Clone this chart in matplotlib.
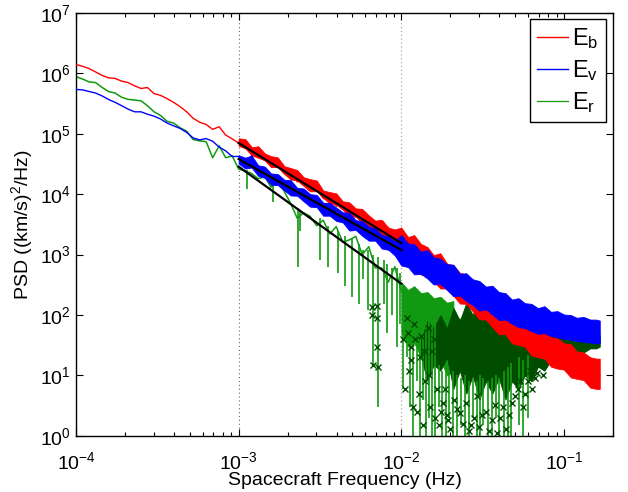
import matplotlib
matplotlib.use('Agg')
import matplotlib.pyplot as plt
from matplotlib.ticker import NullLocator

plt.rcParams['font.family'] = ['Liberation Sans', 'DejaVu Sans']
plt.rcParams['mathtext.fontset'] = 'custom'
plt.rcParams['mathtext.rm'] = 'Liberation Sans'
plt.rcParams['mathtext.it'] = 'Liberation Sans:italic'
plt.rcParams['mathtext.default'] = 'regular'

# frequency grid (Hz)
freq = [1.0e-4, 1.1e-4, 1.2e-4, 1.32e-4, 1.45e-4, 1.58e-4, 1.74e-4, 1.91e-4, 2.09e-4, 2.29e-4,
        2.51e-4, 2.75e-4, 3.02e-4, 3.31e-4, 3.63e-4, 3.98e-4, 4.37e-4, 4.79e-4, 5.25e-4, 5.75e-4,
        6.31e-4, 6.92e-4, 7.59e-4, 8.32e-4, 9.12e-4,
        1.0e-3, 1.1e-3, 1.2e-3, 1.32e-3, 1.45e-3, 1.58e-3, 1.74e-3, 1.91e-3, 2.09e-3, 2.29e-3,
        2.51e-3, 2.75e-3, 3.02e-3, 3.31e-3, 3.63e-3, 3.98e-3, 4.37e-3, 4.79e-3, 5.25e-3, 5.75e-3,
        6.31e-3, 6.92e-3, 7.59e-3, 8.32e-3, 9.12e-3,
        1.0e-2, 1.1e-2, 1.2e-2, 1.32e-2, 1.45e-2, 1.58e-2, 1.74e-2, 1.91e-2, 2.09e-2, 2.29e-2,
        2.51e-2, 2.75e-2, 3.02e-2, 3.31e-2, 3.63e-2, 3.98e-2, 4.37e-2, 4.79e-2, 5.25e-2, 5.75e-2,
        6.31e-2, 6.92e-2, 7.59e-2, 8.32e-2, 9.12e-2,
        1.0e-1, 1.1e-1, 1.2e-1, 1.32e-1, 1.45e-1, 1.58e-1, 1.66e-1]

eb = [1.4e6, 1.3e6, 1.2e6, 1.05e6, 9.2e5, 8.4e5, 8.2e5, 7.4e5, 7.0e5, 6.2e5,
      5.6e5, 5.8e5, 4.6e5, 4.3e5, 3.8e5, 3.3e5, 2.8e5, 2.3e5, 1.8e5, 1.55e5,
      1.42e5, 1.18e5, 1.3e5, 9.5e4, 8.2e4,
      7.0e4, 7.8e4, 6.0e4, 4.0e4, 4.4e4, 3.0e4, 3.2e4, 2.2e4, 2.4e4, 1.6e4,
      1.75e4, 1.15e4, 1.3e4, 8.5e3, 9.8e3, 6.3e3, 7.2e3, 4.6e3, 5.4e3, 3.4e3,
      4.0e3, 2.5e3, 3.0e3, 1.8e3, 2.3e3,
      1.6e3, 1.1e3, 1.3e3, 8.5e2, 9.5e2, 6.5e2, 6.8e2, 4.2e2, 4.5e2, 2.9e2,
      3.0e2, 1.9e2, 1.9e2, 1.25e2, 1.3e2, 85, 90, 62, 66, 46,
      50, 35, 38, 28, 29,
      24, 19, 19, 14, 15, 11, 10]

ev = [5.4e5, 5.3e5, 5.0e5, 4.7e5, 4.2e5, 3.7e5, 3.3e5, 2.9e5, 2.55e5, 2.3e5,
      2.3e5, 2.1e5, 1.95e5, 1.75e5, 1.5e5, 1.35e5, 1.22e5, 1.05e5, 8.5e4, 7.9e4,
      8.3e4, 7.5e4, 6.0e4, 5.2e4, 4.2e4,
      4.2e4, 3.0e4, 4.3e4, 2.6e4, 2.6e4, 1.8e4, 2.0e4, 1.3e4, 1.5e4, 1.0e4,
      1.15e4, 7.5e3, 8.3e3, 5.6e3, 6.4e3, 4.3e3, 4.8e3, 3.3e3, 3.6e3, 2.4e3,
      2.8e3, 1.8e3, 2.1e3, 1.4e3, 1.6e3,
      1.3e3, 8.0e2, 1.0e3, 6.0e2, 7.8e2, 4.7e2, 6.0e2, 3.5e2, 4.4e2, 2.6e2,
      3.3e2, 2.0e2, 2.5e2, 1.55e2, 2.0e2, 1.22e2, 1.6e2, 98, 1.28e2, 80,
      1.05e2, 68, 94, 62, 82,
      55, 74, 50, 68, 47, 64, 50]

er = [8.8e5, 8.0e5, 7.2e5, 7.0e5, 5.8e5, 5.0e5, 4.7e5, 4.0e5, 3.7e5, 3.6e5,
      3.5e5, 2.9e5, 2.3e5, 2.0e5, 1.6e5, 1.5e5, 1.25e5, 1.1e5, 8.0e4, 7.6e4,
      7.4e4, 4.0e4, 6.3e4, 4.0e4, 4.3e4,
      2.6e4, 2.4e4, 2.2e4, 1.8e4, 1.95e4, 1.3e4, 1.7e4, 1.1e4, 7.0e3, 4.0e3,
      4.9e3, 4.3e3, 3.0e3, 3.7e3, 2.2e3, 2.9e3, 1.6e3, 1.75e3, 2.0e3, 1.0e3,
      1.35e3, 6.0e2, 6.0e2, 3.5e2, 6.3e2,
      2.5e2, 1.6e2, 2.2e2, 1.3e2, 1.8e2, 1.1e2, 1.5e2, 90, 1.3e2, 80,
      1.1e2, 70, 1.0e2, 60, 90, 50, 80, 45, 70, 40,
      60, 38, 55, 35, 50,
      38, 45, 36, 44, 35, 42, 38]

# spread of the noisy part, Eb and Ev from 1e-3 Hz (freq[25:])
eb_hi = [8.4e4, 8.1e4, 5.9e4, 6.2e4, 4.7e4, 4.25e4, 4.05e4, 2.9e4, 2.7e4, 2.5e4,
         1.9e4, 1.77e4, 1.68e4, 1.15e4, 1.08e4, 1.03e4, 7.6e3, 7.3e3, 5.8e3, 5.7e3,
         4.45e3, 3.65e3, 3.75e3, 2.8e3, 2.6e3,
         2.8e3, 1.95e3, 2.1e3, 1.5e3, 1.33e3, 9.8e2, 1.05e3, 7.1e2, 6.7e2, 5.0e2,
         4.7e2, 3.15e2, 2.9e2, 2.3e2, 2.2e2, 1.47e2, 1.36e2, 1.09e2, 1.04e2, 75,
         75, 59, 59, 43, 41, 34, 33, 25, 24, 20, 19, 19]
eb_lo = [6.3e4, 5.7e4, 4.4e4, 4.0e4, 3.6e4, 2.8e4, 2.8e4, 2.15e4, 1.75e4, 1.68e4,
         1.37e4, 1.11e4, 1.12e4, 8.6e3, 7.1e3, 6.7e3, 5.5e3, 4.4e3, 4.2e3, 3.4e3,
         2.8e3, 2.65e3, 2.2e3, 1.77e3, 1.6e3,
         1.0e3, 7.2e2, 6.6e2, 4.65e2, 4.7e2, 3.6e2, 2.75e2, 2.75e2, 2.1e2, 1.55e2,
         1.53e2, 1.15e2, 85, 84, 63, 48, 48, 34, 32, 30,
         21.5, 20, 19, 14, 13, 12.5, 9.3, 8.8, 8.4, 6.3, 6.0, 6.0]
ev_hi = [4.4e4, 4.0e4, 4.35e4, 3.0e4, 2.85e4, 2.2e4, 2.15e4, 1.73e4, 1.7e4, 1.27e4,
         1.24e4, 1.0e4, 9.7e3, 7.2e3, 7.2e3, 6.0e3, 5.0e3, 4.9e3, 3.7e3, 3.6e3,
         2.9e3, 2.7e3, 2.1e3, 2.0e3, 1.65e3,
         2.1e3, 1.52e3, 1.49e3, 1.11e3, 1.19e3, 9.0e2, 8.5e2, 6.9e2, 6.8e2, 4.8e2,
         4.9e2, 3.9e2, 3.65e2, 2.95e2, 3.05e2, 2.4e2, 2.3e2, 1.8e2, 1.9e2, 1.57e2,
         1.53e2, 1.3e2, 1.4e2, 1.13e2, 1.16e2, 1.02e2, 1.0e2, 90, 93, 84, 84, 81]
ev_lo = [3.2e4, 2.65e4, 2.75e4, 2.0e4, 1.85e4, 1.43e4, 1.41e4, 1.15e4, 9.5e3, 9.4e3,
         7.6e3, 6.2e3, 6.1e3, 4.4e3, 4.4e3, 3.6e3, 3.4e3, 2.5e3, 2.55e3, 2.05e3,
         1.7e3, 1.7e3, 1.26e3, 1.2e3, 9.7e2,
         6.6e2, 6.2e2, 4.7e2, 4.8e2, 4.0e2, 3.2e2, 3.25e2, 2.6e2, 2.05e2, 2.1e2,
         1.7e2, 1.47e2, 1.18e2, 1.24e2, 1.02e2, 83, 84, 72, 63, 61,
         54, 49, 50, 45, 43, 40, 39, 37, 36, 35, 34, 34]

# light-green Er spread, freq[50:59]
er_hi = [3.5e2, 2.6e2, 3.0e2, 2.3e2, 2.4e2, 1.9e2, 2.0e2, 1.6e2, 1.7e2]
er_lo = [50, 30, 35, 20, 25, 14, 18, 10, 12]

# narrow downward spikes of Er: frequency, bottom, top
er_dip_f = [1.12e-3, 1.63e-3, 2.32e-3, 2.38e-3, 3.16e-3, 3.55e-3, 4.1e-3, 4.5e-3, 5.0e-3, 5.5e-3,
            5.8e-3, 6.2e-3, 6.7e-3, 7.2e-3, 7.8e-3, 8.2e-3, 8.8e-3, 9.4e-3, 9.8e-3,
            1.03e-2, 1.08e-2, 1.13e-2, 1.18e-2, 1.24e-2, 1.3e-2, 1.35e-2, 1.42e-2, 1.48e-2, 1.55e-2,
            1.62e-2, 1.7e-2, 1.78e-2, 1.88e-2, 1.97e-2, 2.08e-2, 2.2e-2, 2.32e-2, 2.45e-2, 2.6e-2,
            2.75e-2, 2.9e-2, 3.05e-2, 3.2e-2, 3.4e-2, 3.6e-2, 3.8e-2, 4.0e-2, 4.25e-2, 4.5e-2,
            4.75e-2, 5.3e-2, 5.6e-2, 6.0e-2]
er_dip_lo = [1.2e4, 7.5e3, 6.3e2, 2.5e3, 8.0e2, 6.3e2, 5e2, 3e2, 2e2, 1.5e2,
             4e2, 1.2e2, 14, 3, 1.5e2, 50, 1e2, 30, 70,
             6, 20, 3, 1, 8, 1, 4, 1, 2, 1,
             1, 3, 1, 1, 2, 1, 1, 1.5, 1, 1,
             2, 1, 1, 1.5, 1, 1, 2, 1, 1, 1,
             1, 1.5, 1, 2]
er_dip_hi = [2.5e4, 1.8e4, 6e3, 5e3, 4e3, 3e3, 2.5e3, 2e3, 1.8e3, 1.5e3,
             1.2e3, 1.2e3, 1.0e3, 9e2, 8e2, 7e2, 6e2, 6e2, 5e2,
             3e2, 2.5e2, 2.5e2, 2.4e2, 2.2e2, 2e2, 2e2, 2e2, 1.8e2, 1.8e2,
             1.6e2, 15, 12, 14, 10, 12, 10, 9, 10, 8,
             9, 8, 10, 9, 8, 9, 10, 9, 12, 14,
             16, 20, 18, 22]

# dark-green part of Er, freq[53:]
erd_hi = [40, 80, 60,
          1.0e2, 60, 1.3e2, 80, 1.6e2, 1.0e2, 1.9e2, 1.1e2, 2.0e2, 1.2e2,
          1.6e2, 1.0e2, 1.3e2, 85, 1.1e2, 75, 95, 68, 85, 60,
          76, 55, 66, 50, 58, 45]
erd_lo = [20, 8, 15,
          12, 20, 6, 12, 5, 10, 4, 8, 5, 9,
          4, 8, 6, 10, 8, 14, 12, 18, 16, 22,
          20, 25, 24, 28, 28, 30]
erd_xf = [6.6e-3, 6.6e-3, 7.1e-3, 7.1e-3, 7.1e-3, 6.7e-3, 7.2e-3, 1.02e-2, 1.05e-2, 1.1e-2,
          1.12e-2, 1.15e-2, 1.18e-2, 1.2e-2, 1.25e-2, 1.3e-2, 1.33e-2, 1.36e-2, 1.4e-2, 1.45e-2,
          1.5e-2, 1.55e-2, 1.6e-2, 1.7e-2, 1.8e-2, 1.9e-2, 2.0e-2, 2.2e-2, 2.4e-2, 2.6e-2,
          2.8e-2, 3.0e-2, 3.3e-2, 3.6e-2, 3.9e-2, 4.2e-2, 4.6e-2, 5.0e-2, 5.4e-2, 5.8e-2,
          6.2e-2, 6.6e-2, 7.0e-2, 7.4e-2,
          1.08e-2, 1.14e-2, 1.22e-2, 1.28e-2, 1.38e-2, 1.47e-2, 1.58e-2, 1.65e-2, 1.75e-2, 1.85e-2,
          1.95e-2, 2.1e-2, 2.3e-2, 2.5e-2, 2.7e-2, 2.9e-2, 3.15e-2, 3.45e-2, 3.75e-2, 4.05e-2,
          4.4e-2, 4.8e-2, 5.2e-2, 5.6e-2, 6.0e-2, 6.4e-2, 6.8e-2, 7.2e-2]
erd_xy = [135, 100, 140, 30, 90, 15, 14, 40, 6, 50,
          12, 30, 3, 70, 2.5, 20, 45, 1.5, 8, 60,
          3, 25, 2, 1.5, 3.5, 2.2, 1.3, 2.8, 1.6, 1.2,
          2.0, 1.4, 2.5, 1.8, 1.1, 3.0, 2.2, 4.5, 8, 5,
          12, 9, 15, 10,
          90, 18, 40, 5, 25, 10, 40, 6, 2.5, 6,
          1.8, 4, 2.4, 3.5, 1.5, 4.5, 2.2, 1.2, 3.2, 2.0,
          1.3, 3.5, 6, 3, 8, 6, 11, 16]

# power-law fits between 1e-3 and 1e-2 Hz
fit_f = [1e-3, 1e-2]
fit_eb = [7.0e4, 1.55e3]
fit_ev = [3.8e4, 1.19e3]
fit_er = [2.85e4, 3.3e2]

c_r = '#ff0000'
c_b = '#0000ff'
c_g = '#119a11'
c_dg = '#004d00'

fig = plt.figure(figsize=(6.28, 4.92), dpi=100)
ax = fig.add_axes([0.121, 0.114, 0.855, 0.86])
ax.set_xscale('log')
ax.set_yscale('log')

ax.axvline(1e-3, color='#666666', ls=(0, (1, 2.5)), lw=0.8, zorder=0)
ax.axvline(1e-2, color='#999999', ls=(0, (1, 2.5)), lw=0.8, zorder=0)

# light green Er
ax.plot(freq, er, color=c_g, lw=1.1, zorder=1)
ax.fill_between(freq[50:59], er_lo, er_hi, color=c_g, lw=0.6, zorder=1)
# dark green part
ax.fill_between(freq[53:], erd_lo, erd_hi, color=c_dg, lw=0.6, zorder=2)
ax.vlines(er_dip_f, er_dip_lo, er_dip_hi, color=c_g, lw=1.2, zorder=2.5)
ax.plot(erd_xf, erd_xy, ls='none', marker='x', ms=5, mew=1, color=c_dg, zorder=2.6)

# Eb, Ev
ax.fill_between(freq[25:], eb_lo, eb_hi, color=c_r, lw=0.6, zorder=3)
l_b, = ax.plot(freq, eb, color=c_r, lw=1.0, zorder=3.1)
ax.fill_between(freq[25:], ev_lo, ev_hi, color=c_b, lw=0.6, zorder=4)
l_v, = ax.plot(freq, ev, color=c_b, lw=1.0, zorder=4.1)
l_g, = ax.plot([], [], color=c_g, lw=0.9)

for fy in (fit_eb, fit_ev, fit_er):
    ax.plot(fit_f, fy, color='black', lw=1.6, zorder=6)

ax.set_xlim(1e-4, 0.2)
ax.set_ylim(1, 1e7)
ax.yaxis.set_minor_locator(NullLocator())
ax.tick_params(which='both', direction='in', top=True, right=True, labelsize=14)
ax.tick_params(axis='x', which='major', pad=11)
ax.tick_params(which='major', length=5, width=0.8)
ax.tick_params(which='minor', length=3, width=0.8)
for s in ax.spines.values():
    s.set_linewidth(1.0)

ax.set_xlabel('Spacecraft Frequency (Hz)', fontsize=14)
ax.xaxis.set_label_coords(0.5, -0.086)
ax.set_ylabel('PSD ((km/s)$^2$/Hz)', fontsize=14, labelpad=4)

leg = ax.legend([l_b, l_v, l_g], ['E$_b$', 'E$_v$', 'E$_r$'],
                loc='upper right', bbox_to_anchor=(0.987, 0.986), fontsize=17,
                handlelength=1.3, labelspacing=0.3, borderaxespad=0, borderpad=0.3,
                handletextpad=0.2, fancybox=False, framealpha=1)
leg.get_frame().set_edgecolor('black')
leg.get_frame().set_linewidth(1.0)

fig.savefig('out.png', dpi=100)
